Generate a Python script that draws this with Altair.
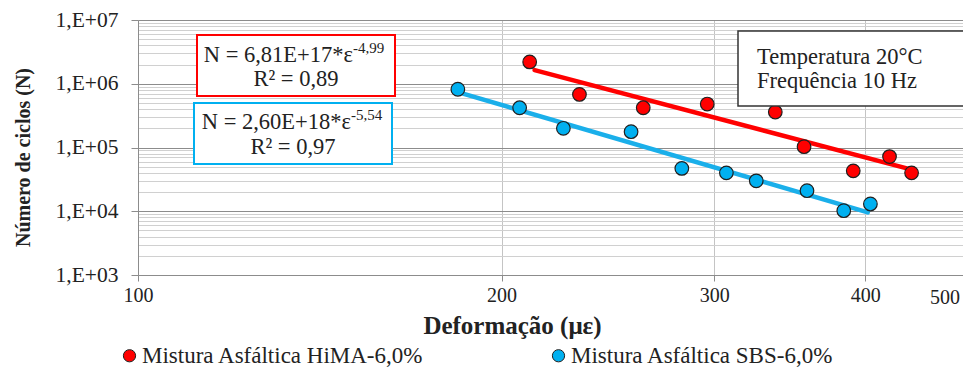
import altair as alt
import pandas as pd

# ---------------- data ----------------
series_names = ["Mistura Asfáltica HiMA-6,0%", "Mistura Asfáltica SBS-6,0%"]
series_colors = ["#FF0000", "#00B0F0"]

hima_def = [211, 232, 262, 296, 337, 356, 391, 419, 437]
hima_n = [2.2e6, 6.8e5, 4.2e5, 4.8e5, 3.6e5, 1.03e5, 4.3e4, 7.2e4, 4.0e4]

sbs_def = [184, 207, 225, 256, 282, 307, 325, 358, 384, 404]
sbs_n = [8.2e5, 4.2e5, 2.0e5, 1.77e5, 4.7e4, 4.0e4, 3.0e4, 2.1e4, 1.02e4, 1.3e4]

# trend-line end points
trend_names = ["Tendência HiMA", "Tendência SBS"]
hima_trend_def = [213, 437]
hima_trend_n = [1.64e6, 4.5e4]
sbs_trend_def = [184, 402]
sbs_trend_n = [7.4e5, 9.6e3]

x_ticks = [100, 200, 300, 400]
y_decades = [3, 4, 5, 6, 7]

eq_hima = ["N = 6,81E+17*ε", "-4,99", "R² = 0,89"]
eq_sbs = ["N = 2,60E+18*ε", "-5,54", "R² = 0,97"]
cond_lines = ["Temperatura 20°C", "Frequência 10 Hz"]

# ---------------- tables ----------------
pts = pd.DataFrame(
    {"def": hima_def + sbs_def,
     "n": hima_n + sbs_n,
     "serie": [series_names[0]] * len(hima_def) + [series_names[1]] * len(sbs_def)}
)
trend = pd.DataFrame(
    {"def": hima_trend_def + sbs_trend_def,
     "n": hima_trend_n + sbs_trend_n,
     "tend": [trend_names[0]] * 2 + [trend_names[1]] * 2}
)

y_vals = []
for d in y_decades[:-1]:
    for m in range(1, 10):
        y_vals.append(m * 10 ** d)
y_vals.append(10 ** y_decades[-1])

FONT = "Liberation Serif"
W, H = 825, 255

major = "abs(log(datum.value)/LN10 - round(log(datum.value)/LN10)) < 0.001"

xscale = alt.Scale(type="log", domain=[100, 482], nice=False)
yscale = alt.Scale(type="log", domain=[1e3, 1e7], nice=False)

x_enc = alt.X(
    "def:Q", scale=xscale,
    axis=alt.Axis(
        values=x_ticks, title="Deformação (με)", format="d",
        grid=True, gridColor="#C4C4C4", gridWidth=1,
        domainColor="#8C8C8C", tickColor="#8C8C8C", tickSize=6,
        labelFont=FONT, labelFontSize=20, labelColor="#222", labelPadding=4,
        labelOverlap=False, labelFlush=False,
        titleFont=FONT, titleFontSize=25, titleFontWeight="bold", titleColor="#222",
        titleX=374, titleY=58, titleAlign="center", titleBaseline="alphabetic",
    ),
)
y_enc = alt.Y(
    "n:Q", scale=yscale,
    axis=alt.Axis(
        values=y_vals, title="Número de ciclos (N)",
        grid=True,
        gridColor={"condition": {"test": major, "value": "#8C8C8C"}, "value": "#D0D0D0"},
        gridWidth=1,
        tickColor={"condition": {"test": major, "value": "#8C8C8C"}, "value": "transparent"},
        tickSize=7, domainColor="#8C8C8C",
        labelExpr="(" + major + ") ? '1,E+0' + round(log(datum.value)/LN10) : ''",
        labelFont=FONT, labelFontSize=21.5, labelColor="#222", labelPadding=13,
        labelOverlap=False, labelFlush=False,
        titleFont=FONT, titleFontSize=20, titleFontWeight="bold", titleColor="#222",
        titleX=-115, titleY=137, titleAngle=270, titleAlign="center", titleBaseline="middle",
    ),
)

lines = alt.Chart(trend).mark_line(strokeWidth=4.5, strokeCap="round").encode(
    x=x_enc, y=y_enc,
    stroke=alt.Stroke("tend:N", scale=alt.Scale(domain=trend_names, range=["#FF0000", "#1AAFEA"]),
                      legend=None),
)

points = alt.Chart(pts).mark_circle(size=185, opacity=1, stroke="#1F1F1F", strokeWidth=1.2).encode(
    x=alt.X("def:Q", scale=xscale),
    y=alt.Y("n:Q", scale=yscale),
    fill=alt.Fill(
        "serie:N", scale=alt.Scale(domain=series_names, range=series_colors),
        legend=alt.Legend(
            title=None, orient="none", legendX=-20, legendY=324, direction="horizontal",
            columns=2, columnPadding=123, padding=0,
            symbolType="circle", symbolSize=150, symbolStrokeColor="#1F1F1F",
            symbolStrokeWidth=1, symbolOpacity=1, labelOffset=1,
            labelFont=FONT, labelFontSize=23, labelColor="#222", labelLimit=400,
        ),
    ),
)


def box(x1, x2, y1, y2, color, sw):
    return alt.Chart(pd.DataFrame({"k": [0]})).mark_rect(
        fill="white", stroke=color, strokeWidth=sw
    ).encode(x=alt.value(x1), x2=alt.value(x2), y=alt.value(y1), y2=alt.value(y2))


def txt(s, x, y, size, align="center"):
    return alt.Chart(pd.DataFrame({"t": [s]})).mark_text(
        font=FONT, fontSize=size, color="#222", align=align, baseline="alphabetic"
    ).encode(text="t:N", x=alt.value(x), y=alt.value(y))


annot = [
    box(59, 257, 15, 76, "#FF0000", 2),
    txt(eq_hima[0], 215, 42, 22.5, "right"),
    txt(eq_hima[1], 215, 33, 15, "left"),
    txt(eq_hima[2], 158, 66, 22.5),
    box(56, 254, 83, 144, "#00B0F0", 2),
    txt(eq_sbs[0], 213, 109, 22.5, "right"),
    txt(eq_sbs[1], 213, 100, 15, "left"),
    txt(eq_sbs[2], 155, 134, 22.5),
    box(600, 831, 11, 86, "#333333", 1.5),
    txt(cond_lines[0], 619, 44, 22.5, "left"),
    txt(cond_lines[1], 619, 68, 22.5, "left"),
    txt("500", 807, 284, 20),
]

chart = alt.layer(lines, points, *annot).properties(
    width=W, height=H,
    autosize=alt.AutoSizeParams(type="none"),
    padding={"left": 130, "top": 12, "right": 0, "bottom": 98},
).configure_view(stroke=None).configure(background="white")

chart.save("out.html", embed_options={"renderer": "svg", "actions": False})
